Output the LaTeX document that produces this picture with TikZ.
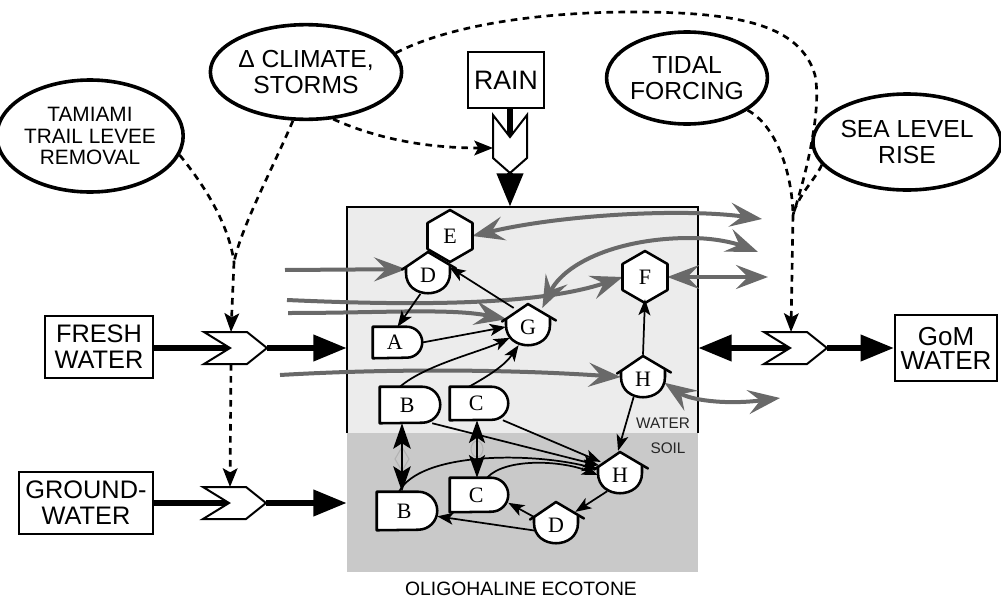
\documentclass[tikz,border=0pt]{standalone}
\usepackage{fontspec}
\setmainfont{Liberation Sans}
\newfontfamily\letterfont{Liberation Serif}
\usetikzlibrary{arrows.meta,shapes.geometric,calc}
\definecolor{gry}{RGB}{105,105,105}
\definecolor{waterbg}{RGB}{236,236,236}
\definecolor{soilbg}{RGB}{201,201,201}

\newcommand\chevHcoords[3]{%
  \coordinate (#1-n) at ({#2+26},{#3});
  \coordinate (#1-t) at ({#2+63},{#3});
  \coordinate (#1-u) at ({#2+27},{#3-16});
  \coordinate (#1-d) at ({#2+27},{#3+16});
}
\newcommand\chevHdraw[2]{%
  \draw[chev] ({#1},{#2-16}) -- ({#1+43},{#2-16}) -- ({#1+63},{#2}) -- ({#1+43},{#2+16}) -- ({#1},{#2+16}) -- ({#1+26},{#2}) -- cycle;
}
\newcommand\prodshape[2]{%
  \draw[symline] ([shift={(-22,-6)}]#1.center) -- ([shift={(0,-21)}]#1.center) -- ([shift={(22,-8)}]#1.center) -- ([shift={(22,0)}]#1.center) .. controls ([shift={(22,27)}]#1.center) and ([shift={(-22,27)}]#1.center) .. ([shift={(-22,0)}]#1.center) -- cycle;
  \draw[symline,fill=none,line cap=round] ([shift={(-22,-6)}]#1.center) -- ([shift={(-26,-3.5)}]#1.center) ([shift={(22,-8)}]#1.center) -- ([shift={(28,-4.5)}]#1.center);
  \node[lab] at ([shift={(0,2)}]#1.center) {#2};
}
\newcommand\consshape[2]{%
  \draw[symline] ([shift={(0,-26)}]#1.center) -- ([shift={(22.5,-13)}]#1.center) -- ([shift={(22.5,13)}]#1.center) -- ([shift={(0,26)}]#1.center) -- ([shift={(-22.5,13)}]#1.center) -- ([shift={(-22.5,-13)}]#1.center) -- cycle;
  \node[lab] at (#1.center) {#2};
}
\newcommand\dshape[3]{%
  \draw[symline] (#1.south west) -- (#1.north west) -- ([xshift=-#2]#1.north east) arc[start angle=90,end angle=-90,radius=#2] -- cycle;
  \node[lab] at ([xshift=-2pt]#1.center) {#3};
}

\begin{document}
\begin{tikzpicture}[x=0.75pt,y=-0.75pt,
  ell/.style={ellipse,draw,line width=2.7pt,inner sep=0pt,align=center,font=\fontsize{18.5}{20}\selectfont},
  bx/.style={rectangle,draw,line width=1.5pt,inner sep=0pt,align=center,font=\fontsize{19}{19.5}\selectfont},
  dsh/.style={line width=2pt,dash pattern=on 5pt off 4pt,-{Stealth[length=14pt,width=11pt,inset=3pt]}},
  dshn/.style={line width=2pt,dash pattern=on 5pt off 4pt},
  flow/.style={line width=4.5pt,-{Triangle[length=25pt,width=19pt]}},
  flown/.style={line width=4.5pt},
  chev/.style={draw,fill=white,line width=1.5pt,line join=miter},
  ga/.style={draw=gry,line width=3pt,-{Stealth[length=24pt,width=18pt,inset=9pt]}},
  gaa/.style={draw=gry,line width=3pt,{Stealth[length=24pt,width=18pt,inset=9pt]}-{Stealth[length=24pt,width=18pt,inset=9pt]}},
  ka/.style={line width=1.3pt,-{Stealth[length=12pt,width=9pt,inset=3pt]}},
  symline/.style={draw,fill=white,line width=1.9pt,line join=round},
  geom/.style={circle,minimum size=33pt,inner sep=0pt},
  dgeom/.style={rectangle,inner sep=0pt},
  lab/.style={font=\letterfont\fontsize{16.5}{16.5}\selectfont,inner sep=0pt},
]
\useasboundingbox (0,0) rectangle (1001,600);

% ecotone box
\fill[waterbg] (347,207) rectangle (698,433);
\fill[soilbg] (347,433) rectangle (698,572);
\draw[line width=1.9pt] (347,433) -- (347,207) -- (698,207) -- (698,433);
\node[minimum width=263.25pt,minimum height=273.75pt,inner sep=0pt] (eco) at (522.5,389.5) {};

% outer ellipses
\node[ell,minimum width=122pt,minimum height=84pt,font=\fontsize{15.6}{15.8}\selectfont] (tam) at (90,136) {TAMIAMI\\TRAIL LEVEE\\REMOVAL};
\node[ell,minimum width=121pt,minimum height=71pt] (clim) at (306,72) {Δ CLIMATE,\\STORMS};
\node[ell,minimum width=118pt,minimum height=69pt] (tid) at (687,78) {TIDAL\\FORCING};
\node[ell,minimum width=122pt,minimum height=72pt] (sea) at (907,142) {SEA LEVEL\\RISE};

% boxes
\node[bx,minimum width=57.5pt,minimum height=41.5pt,font=\fontsize{20}{20}\selectfont] (rain) at (506,80) {RAIN};
\node[bx,minimum width=81pt,minimum height=47pt] (fresh) at (99,347) {FRESH\\WATER};
\node[bx,minimum width=101pt,minimum height=47pt] (ground) at (86,503) {GROUND-\\WATER};
\node[bx,minimum width=76.5pt,minimum height=50pt,font=\fontsize{19.5}{18}\selectfont] (gom) at (946,348) {GoM\\WATER};

% chevron coordinates
\chevHcoords{fw}{204}{348}
\chevHcoords{gw}{203}{503}
\chevHcoords{gm}{764}{348}
\coordinate (rc-n) at (510,137);
\coordinate (rc-t) at (510,173);
\coordinate (rc-l) at (493,148);

% heavy flows
\draw[flown] (rain.south -| rc-n) -- (rc-n);
\draw[flow] (rc-t) -- (rc-t |- eco.north);
\draw[flown] (fresh.east |- fw-n) -- (fw-n);
\draw[flow] (fw-t) -- (fw-t -| eco.west);
\draw[flown] (ground.east |- gw-n) -- (gw-n);
\draw[flow] (gw-t) -- (gw-t -| eco.west);
\draw[flow] (gm-n) -- (gm-n -| eco.east);
\draw[flow] (gm-t) -- (gom.west |- gm-t);

% chevrons
\chevHdraw{204}{348}
\chevHdraw{203}{503}
\chevHdraw{764}{348}
\draw[chev] (493,115) -- (rc-n) -- (527,115) -- (527,158) -- (rc-t) -- (493,158) -- cycle;

% dashed control lines
\coordinate (mL) at (234,262);
\coordinate (mR) at (793,215);
\draw[dshn] (tam.-12) .. controls (200,180) and (228,220) .. (mL);
\draw[dshn] (clim.-105) .. controls (272,170) and (242,225) .. (mL);
\draw[dsh] (mL) -- (fw-u);
\draw[dsh] (fw-d) -- (gw-u);
\draw[dsh] (clim.-60) .. controls (380,140) and (430,148) .. (rc-l);
\draw[dshn] (clim.12) .. controls (450,25) and (540,12) .. (633,12) .. controls (740,12) and (800,25) .. (815,75) .. controls (822,110) and (806,175) .. (mR);
\draw[dshn] (tid.-28) .. controls (775,125) and (792,170) .. (mR);
\draw[dshn] (sea.195) .. controls (815,180) and (798,195) .. (mR);
\draw[dsh] (mR) -- (gm-u);

% symbol geometry nodes
\node[geom] (E) at (450,236) {};
\node[geom] (F) at (645,277) {};
\node[geom] (D1) at (428,273) {};
\node[geom] (G) at (528,325) {};
\node[geom] (Hw) at (643,377) {};
\node[geom] (Hs) at (620,473) {};
\node[geom] (D2) at (556,523) {};
\node[dgeom,minimum width=36.75pt,minimum height=23.25pt] (A) at (397.5,342.5) {};
\node[dgeom,minimum width=45pt,minimum height=27pt] (B1) at (410,405) {};
\node[dgeom,minimum width=43.5pt,minimum height=24.75pt] (C1) at (479,403.5) {};
\node[dgeom,minimum width=45pt,minimum height=28.5pt] (B2) at (407,511) {};
\node[dgeom,minimum width=43.5pt,minimum height=25.5pt] (C2) at (479,495) {};

% grey flows
\coordinate (oE) at (762,219);
\coordinate (oG) at (758,252);
\coordinate (oF) at (768,277);
\coordinate (oH) at (780,398);
\coordinate (iD) at (285,270);
\coordinate (iF) at (287,300);
\coordinate (iG) at (288,313);
\coordinate (iH) at (280,375);
\draw[gaa] (E.east) .. controls (560,215) and (680,208) .. (oE);
\draw[gaa] (G.50) .. controls (565,262) and (620,238) .. (690,238) .. controls (720,238) and (740,245) .. (oG);
\draw[gaa] (F.east) -- (oF);
\draw[ga] (iD) -- (D1.170);
\draw[ga] (iF) .. controls (420,306) and (540,305) .. (F.west);
\draw[ga] (iG) .. controls (380,313) and (450,308) .. (G.165);
\draw[ga] (iH) .. controls (400,368) and (520,370) .. (Hw.west);
\draw[gaa] (Hw.-15) .. controls (690,400) and (725,405) .. (oH);

% symbols
\consshape{E}{E}
\prodshape{D1}{D}
\consshape{F}{F}
\prodshape{G}{G}
\prodshape{Hw}{H}
\prodshape{Hs}{H}
\prodshape{D2}{D}
\dshape{A}{11.6pt}{A}
\dshape{B1}{13.5pt}{B}
\dshape{C1}{12.4pt}{C}
\dshape{B2}{14.25pt}{B}
\dshape{C2}{12.75pt}{C}

% internal interactions
\draw[ka] (D1.250) -- (A.north);
\draw[ka] (G.130) -- (D1.15);
\draw[ka] (A.east) -- (G.185);
\draw[ka] ([xshift=-7.5pt]B1.north) .. controls (425,365) and (480,352) .. (G.215);
\draw[ka] ([xshift=-7.5pt]C1.north) .. controls (490,375) and (505,365) .. (G.245);
\draw[ka] (Hw.north) -- (F.south);
\draw[ka] (Hw.245) -- (Hs.95);
\draw[ka] ([xshift=-6pt]B1.south east) -- (Hs.160);
\draw[ka] ([xshift=-4pt]C1.south east) -- (Hs.150);
\draw[ka] ([xshift=-6pt]B2.north) .. controls (420,452) and (530,452) .. (Hs.170);
\draw[ka] ([xshift=6pt]C2.north) .. controls (505,458) and (560,460) .. (Hs.185);
\draw[ka] (Hs.235) -- (D2.30);
\draw[ka] (D2.165) -- (C2.-15);
\draw[ka] (D2.200) -- (B2.-10);

% water-soil exchanges
\draw[gray!60,line width=0.8pt] (402,447) -- (409,459) -- (402,471) -- (395,459) -- cycle;
\draw[gray!60,line width=0.8pt] (477,449) ellipse [x radius=6, y radius=8];
\draw[line width=2.2pt,{Stealth[length=19pt,width=13pt,inset=4pt]}-{Stealth[length=19pt,width=13pt,inset=4pt]}] ([xshift=-6pt]B1.south) -- ([xshift=-3.75pt]B2.north);
\draw[line width=2.2pt,{Stealth[length=17pt,width=12pt,inset=4pt]}-{Stealth[length=17pt,width=12pt,inset=4pt]}] ([xshift=-1.5pt]C1.south) -- ([xshift=-1.5pt]C2.north);

% labels
\node[font=\fontsize{11.5}{11.5}\selectfont,text=black!85,inner sep=0pt] (wl) at (663,423) {WATER};
\node[font=\fontsize{11.5}{11.5}\selectfont,text=black!85,inner sep=0pt] (sl) at (668,448) {SOIL};
\node[font=\fontsize{14.5}{14.5}\selectfont,inner sep=0pt] (oe) at (521,589) {OLIGOHALINE ECOTONE};
\end{tikzpicture}
\end{document}
